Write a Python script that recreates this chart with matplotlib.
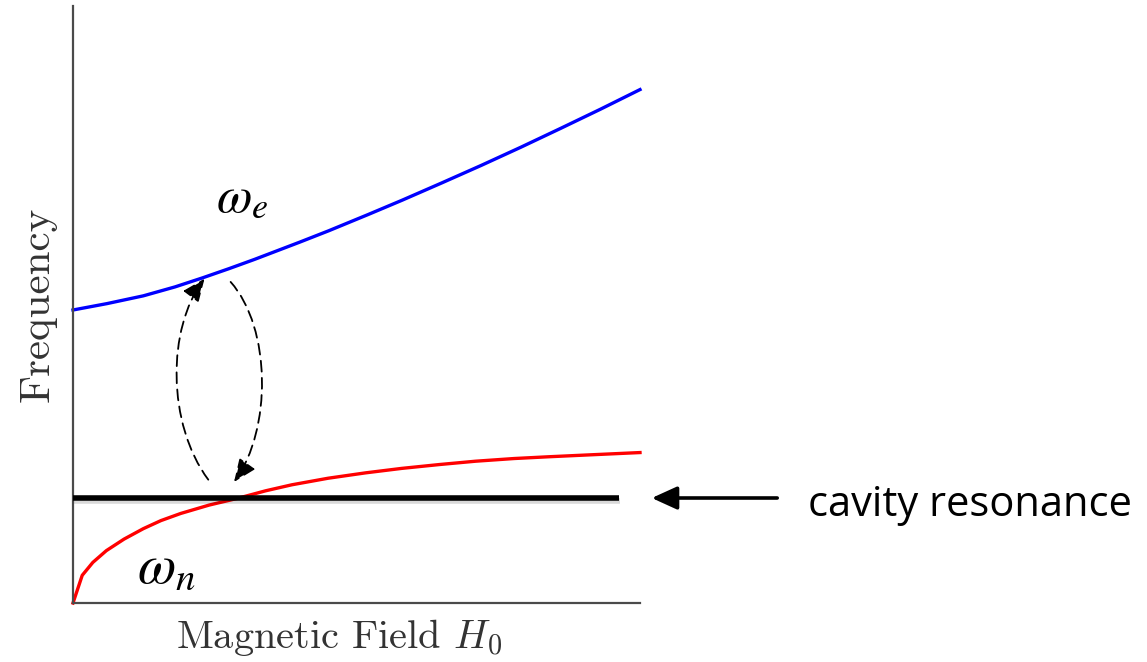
import matplotlib
matplotlib.use("Agg")
import matplotlib.pyplot as plt
import matplotlib.patheffects as pe
from matplotlib.patches import FancyArrowPatch
from matplotlib.path import Path

plt.rcParams['axes.formatter.use_mathtext'] = True

# Data (normalized units: field 0..1, frequency 0..1)
field_e = [0.0, 0.06, 0.124, 0.18, 0.229, 0.275, 0.32, 0.40, 0.451, 0.52, 0.58,
           0.65, 0.72, 0.79, 0.86, 0.93, 1.0]
omega_e = [0.4908, 0.5015, 0.5145, 0.5295, 0.5448, 0.5600, 0.5755, 0.6045, 0.6235,
           0.6505, 0.6745, 0.7035, 0.733, 0.7635, 0.795, 0.827, 0.860]

field_n = [0.0, 0.0163, 0.035, 0.0588, 0.09, 0.124, 0.155, 0.19, 0.24, 0.291,
           0.34, 0.386, 0.45, 0.516, 0.58, 0.647, 0.71, 0.778, 0.84, 0.908, 1.0]
omega_n = [0.0, 0.0464, 0.068, 0.0877, 0.107, 0.1245, 0.138, 0.150, 0.164, 0.1755,
           0.188, 0.198, 0.209, 0.218, 0.2255, 0.232, 0.2375, 0.242, 0.245, 0.248, 0.252]

cavity_level = 0.1755
cavity_end = 0.963

fig = plt.figure(figsize=(11.47, 6.62), dpi=100)
ax = fig.add_axes([73/1147, 59/662, 567/1147, 597/662])
ax.set_xlim(0, 1)
ax.set_ylim(0, 1)
for s in ['top', 'right']:
    ax.spines[s].set_visible(False)
for s in ['left', 'bottom']:
    ax.spines[s].set_color('#4a4a4a')
    ax.spines[s].set_linewidth(1.6)
ax.set_xticks([])
ax.set_yticks([])

ax.plot(field_e, omega_e, color='#0000ff', lw=2.4, solid_joinstyle='round', clip_on=False)
ax.plot(field_n, omega_n, color='#ff0000', lw=2.4, solid_joinstyle='round', clip_on=False)

shadow = [pe.SimpleLineShadow(offset=(1.0, -2.0), alpha=0.15, shadow_color='black'), pe.Normal()]
ax.plot([0, cavity_end], [cavity_level, cavity_level], color='black', lw=4,
        solid_capstyle='butt', path_effects=shadow, clip_on=False, zorder=3)

# external arrow pointing to the cavity line
arr = FancyArrowPatch((780, 662 - 498), (649, 662 - 498), transform=None,
                      arrowstyle='-|>,head_length=1.1,head_width=0.5',
                      mutation_scale=14, lw=2.6, color='black', clip_on=False)
arr.set_path_effects([pe.SimplePatchShadow(offset=(1.0, -2.0), alpha=0.15), pe.Normal()])
fig.add_artist(arr)
fig.text(808/1147, 1 - 516/662, 'cavity resonance', fontsize=30, family='Open Sans',
         ha='left', va='baseline', color='black')

# dashed coupling arrows (elliptical loop)
C = Path.CURVE4
left_path = Path([(0.2386, 0.2066), (0.1656, 0.30), (0.1656, 0.46), (0.232, 0.5434)],
                 [Path.MOVETO, C, C, C])
right_path = Path([(0.278, 0.5378), (0.3503, 0.46), (0.3503, 0.29), (0.284, 0.2027)],
                  [Path.MOVETO, C, C, C])
for p in (left_path, right_path):
    a = FancyArrowPatch(path=p, arrowstyle='-|>,head_length=1.0,head_width=0.42',
                        mutation_scale=14, lw=1.3, ls=(0, (6, 3.5)), color='black')
    ax.add_patch(a)

# labels
ax.text(0.298, 0.678, r'$\omega_e$', fontsize=37, math_fontfamily='stix', ha='center', va='center')
ax.text(0.164, 0.060, r'$\omega_n$', fontsize=40, math_fontfamily='stix', ha='center', va='center')

ax.set_xlabel(r'Magnetic Field $H_0$', fontsize=29, family='cmr10', math_fontfamily='cm',
              color='#333333', labelpad=6)
ax.xaxis.set_label_coords(0.469, -0.024, transform=ax.transAxes)
ax.xaxis.label.set_va('top')
ax.set_ylabel('Frequency', fontsize=31, family='cmr10', color='#333333', labelpad=12)

fig.savefig('out.png', dpi=100)
